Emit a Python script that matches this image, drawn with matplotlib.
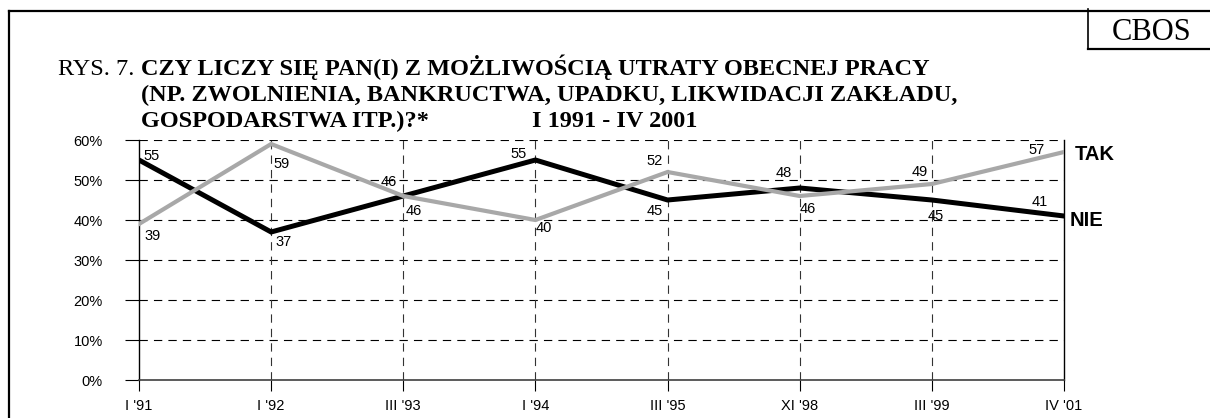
import matplotlib
matplotlib.use("Agg")
import matplotlib.pyplot as plt
from matplotlib.lines import Line2D

# dane z wykresu CBOS
okresy = ["I '91", "I '92", "III '93", "I '94", "III '95", "XI '98", "III '99", "IV '01"]
tak = [39, 59, 46, 40, 52, 46, 49, 57]
nie = [55, 37, 46, 55, 45, 48, 45, 41]
y_ticks = [0, 10, 20, 30, 40, 50, 60]

# przesuniecia etykiet (piksele: dx, dy w dol, wyrownanie)
tak_off = [(5, 12, 'left'), (2, 20, 'left'), (2, 15, 'left'), (0, 8, 'left'),
           (-5, -11, 'right'), (0, 13, 'left'), (-4, -12, 'right'), (-19, -2, 'right')]
nie_off = [(4, -4, 'left'), (4, 10, 'left'), (-6, -14, 'right'), (-9, -6, 'right'),
           (-5, 11, 'right'), (-8, -15, 'right'), (-4, 16, 'left'), (-16, -14, 'right')]

W, H = 1210, 418
SANS = 'Liberation Sans'
SERIF = 'Liberation Serif'

fig = plt.figure(figsize=(W / 100, H / 100), dpi=100)

def fx(px):
    return px / W

def fy(py):
    return 1 - py / H

ax = fig.add_axes([fx(139), fy(380), fx(1064) - fx(139), fy(140) - fy(380)])

x = list(range(len(okresy)))
ax.plot(x, nie, color='black', lw=3.6, solid_joinstyle='miter', zorder=3)
ax.plot(x, tak, color='#a8a8a8', lw=3.0, solid_joinstyle='miter', zorder=4)

for i in range(len(x)):
    dx, dy, ha = tak_off[i]
    ax.annotate(str(tak[i]), (x[i], tak[i]), xytext=(dx, -dy), textcoords='offset pixels',
                ha=ha, va='center', fontsize=10.5, family=SANS, zorder=5)
    dx, dy, ha = nie_off[i]
    ax.annotate(str(nie[i]), (x[i], nie[i]), xytext=(dx, -dy), textcoords='offset pixels',
                ha=ha, va='center', fontsize=10.5, family=SANS, zorder=5)

ax.annotate("TAK", (x[-1], tak[-1]), xytext=(11, -3), textcoords='offset pixels',
            ha='left', va='center', fontsize=14.5, fontweight='bold', family=SANS,
            annotation_clip=False)
ax.annotate("NIE", (x[-1], nie[-1]), xytext=(6, -4), textcoords='offset pixels',
            ha='left', va='center', fontsize=14.5, fontweight='bold', family=SANS,
            annotation_clip=False)

ax.set_xlim(0, len(okresy) - 1)
ax.set_ylim(0, 60)
ax.set_xticks(x)
ax.set_xticklabels(okresy, family=SANS, fontsize=10.5)
ax.set_yticks(y_ticks)
ax.set_yticklabels([str(v) + "%" for v in y_ticks], family=SANS, fontsize=10.5)
ax.tick_params(axis='y', length=10, width=0.8, pad=16, direction='out')
ax.tick_params(axis='x', length=8, width=0.8, pad=6, direction='out')

dash = (0, (7.5, 5.5))
for v in y_ticks[1:]:
    ax.axhline(v, color='black', lw=0.8, linestyle=dash, zorder=1)
for v in x[1:-1]:
    ax.axvline(v, color='#333333', lw=0.8, linestyle=dash, zorder=1)

ax.spines['top'].set_visible(False)
ax.spines['left'].set_linewidth(1.0)
ax.spines['right'].set_linewidth(1.0)
ax.spines['bottom'].set_linewidth(1.2)
ax.spines['bottom'].set_color('#404040')
ax.set_facecolor('none')

# ramka i naglowek
fig.add_artist(Line2D([fx(9), fx(1210)], [fy(11), fy(11)], color='black', lw=1.6))
fig.add_artist(Line2D([fx(9), fx(9)], [fy(11), fy(418)], color='black', lw=1.6))
fig.add_artist(Line2D([fx(1088), fx(1088)], [fy(9), fy(49)], color='black', lw=1.2))
fig.add_artist(Line2D([fx(1088), fx(1210)], [fy(49), fy(49)], color='black', lw=1.6))
fig.text(fx(1152), fy(32), "CBOS", family=SERIF, fontsize=22, ha='center', va='center')

fs = 17.5
fig.text(fx(58), fy(75), "RYS. 7.", family=SERIF, fontsize=fs, va='baseline')
fig.text(fx(141), fy(75), "CZY LICZY SIĘ PAN(I) Z MOŻLIWOŚCIĄ UTRATY OBECNEJ PRACY",
         family=SERIF, fontsize=fs, fontweight='bold', va='baseline')
fig.text(fx(141), fy(101), "(NP. ZWOLNIENIA, BANKRUCTWA, UPADKU, LIKWIDACJI ZAKŁADU,",
         family=SERIF, fontsize=fs, fontweight='bold', va='baseline')
fig.text(fx(141), fy(127), "GOSPODARSTWA ITP.)?*",
         family=SERIF, fontsize=fs, fontweight='bold', va='baseline')
fig.text(fx(532), fy(127), "I 1991 - IV 2001",
         family=SERIF, fontsize=fs, fontweight='bold', va='baseline')

fig.savefig("out.png", dpi=100)
